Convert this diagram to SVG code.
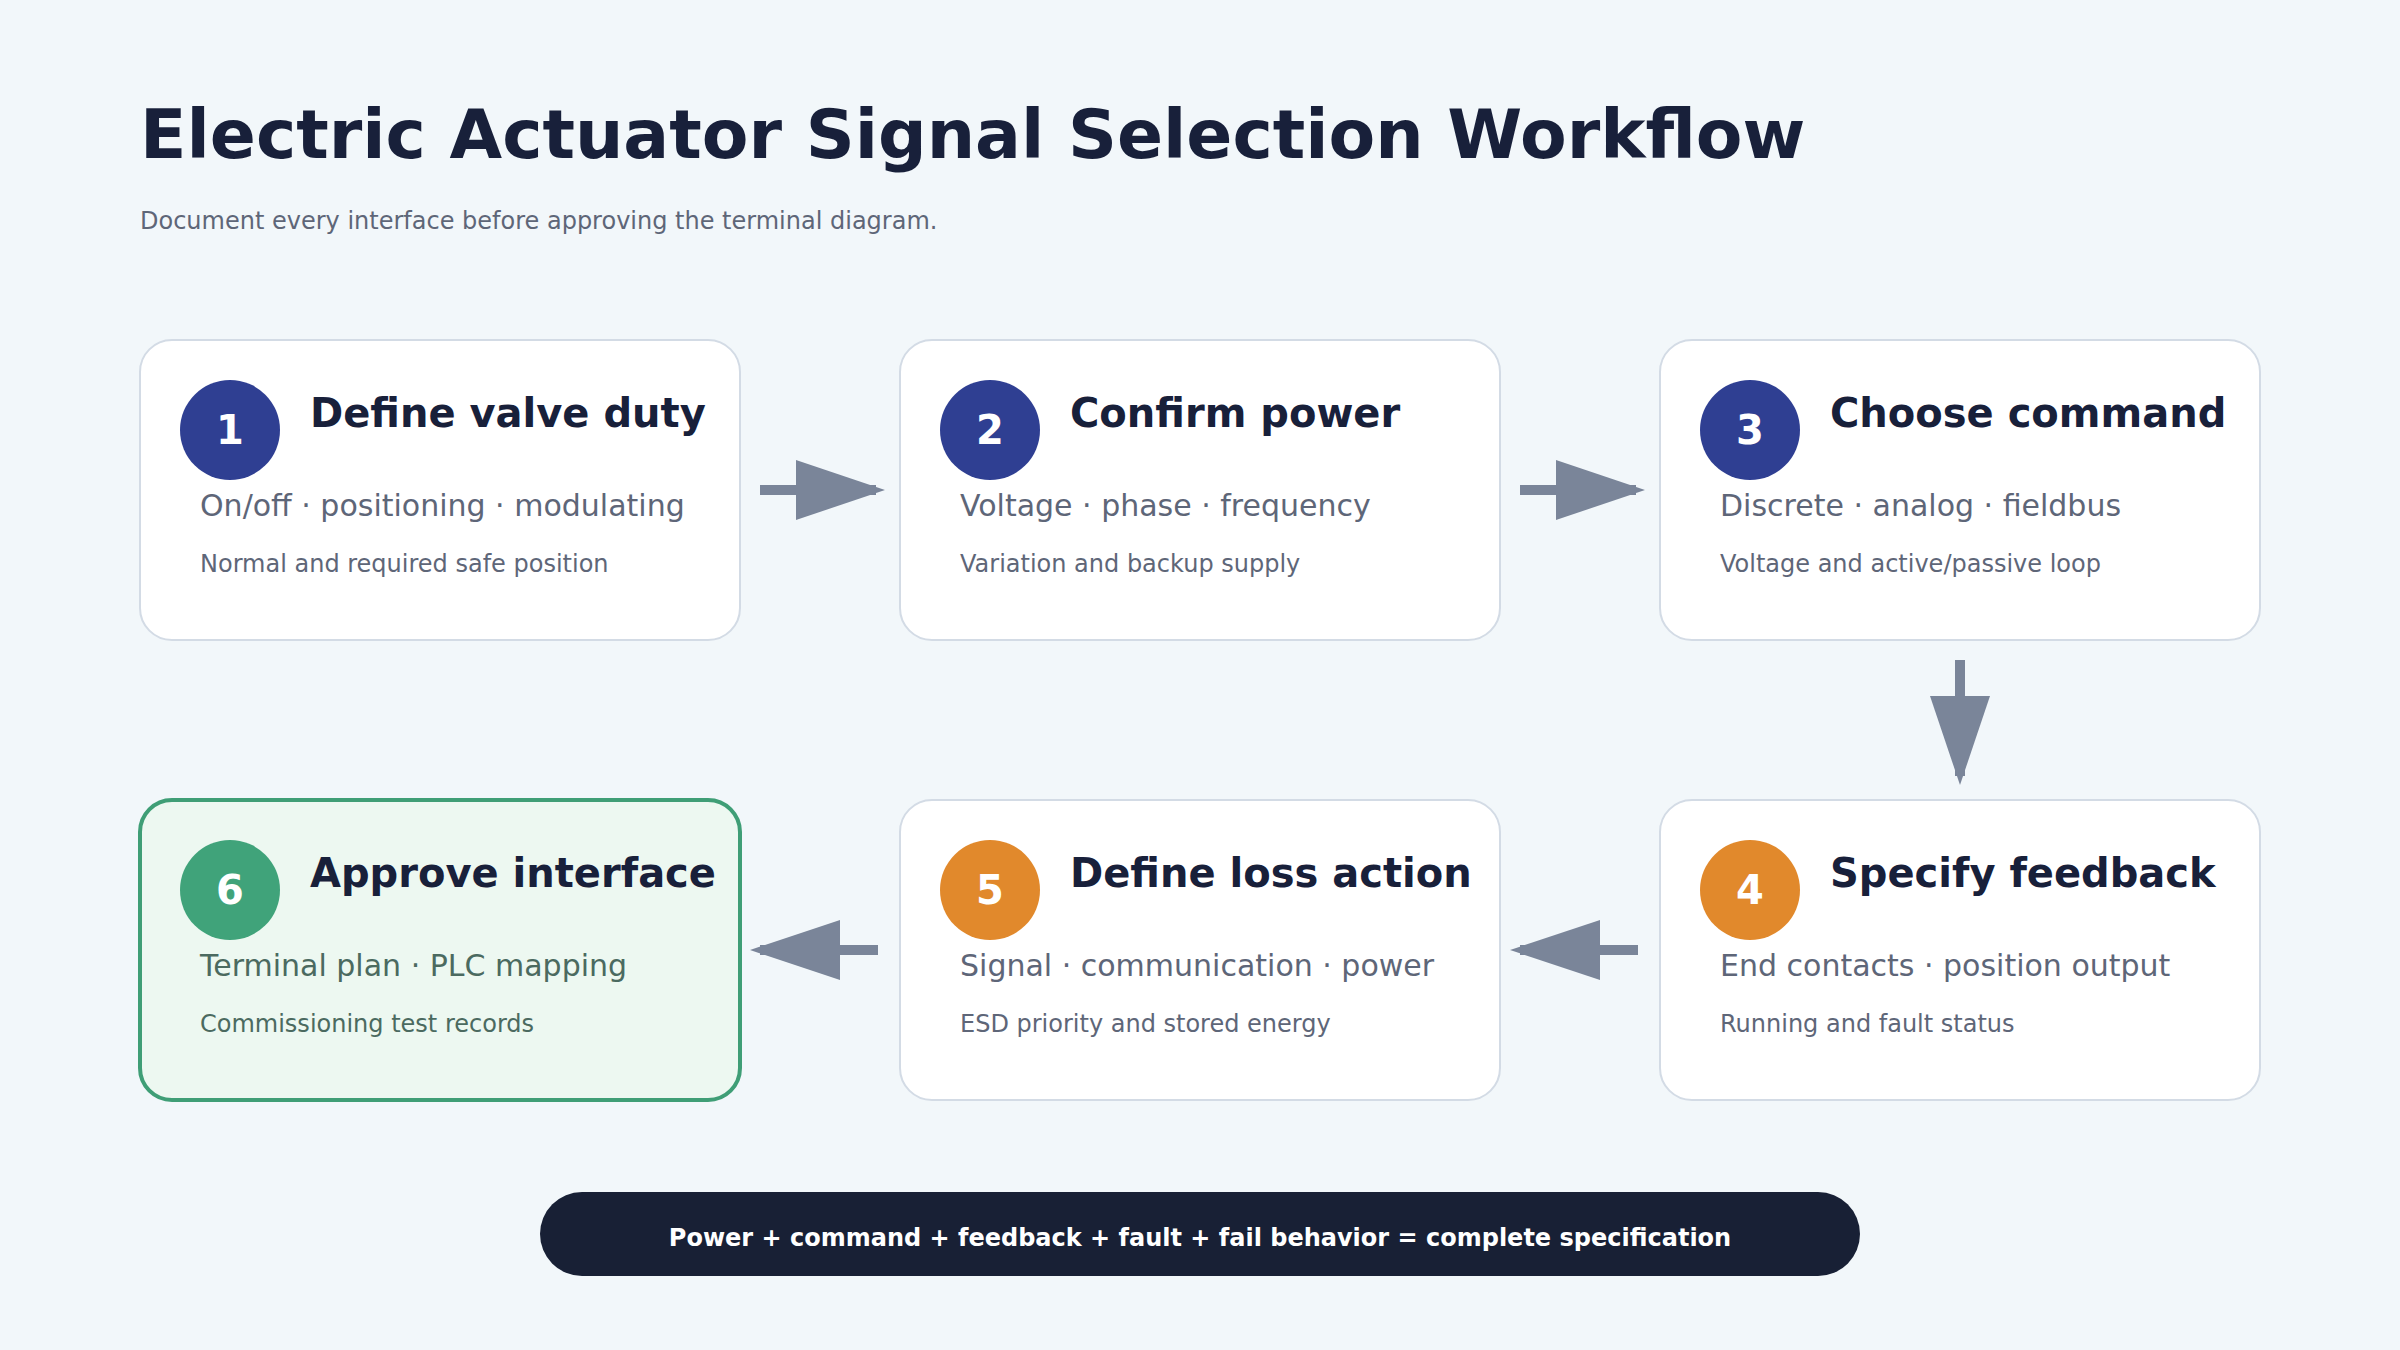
<svg xmlns="http://www.w3.org/2000/svg" width="2400" height="1350" viewBox="0 0 2400 1350">
<style>
  text { font-family: "DejaVu Sans", "Liberation Sans", sans-serif; }
  .card { fill: #ffffff; stroke: #d3dbe5; stroke-width: 2; }
  .card-ok { fill: #edf8f1; stroke: #3f9e76; stroke-width: 4; }
  .title { font-size: 40px; font-weight: bold; fill: #18203a; }
  .sub { font-size: 30px; fill: #5e6678; }
  .det { font-size: 24px; fill: #5e6678; }
  .sub-ok { font-size: 30px; fill: #4b6a60; }
  .det-ok { font-size: 24px; fill: #4b6a60; }
  .num { font-size: 40px; font-weight: bold; fill: #ffffff; text-anchor: middle; }
  .navy { fill: #2f3f92; }
  .orange { fill: #e1892c; }
  .green { fill: #40a37a; }
  .shaft { stroke: #7a8599; stroke-width: 10; fill: none; }
  .head { fill: #7a8599; }
</style>
<rect x="0" y="0" width="2400" height="1350" fill="#f2f7fa"/>
<text x="140" y="158" font-size="68" font-weight="bold" fill="#18203a">Electric Actuator Signal Selection Workflow</text>
<text x="140" y="229" font-size="24" fill="#5e6678">Document every interface before approving the terminal diagram.</text>

<g id="connectors">
  <line class="shaft" x1="760" y1="490" x2="876" y2="490"/>
  <polygon class="head" points="796,460 885,490 796,520"/>
  <line class="shaft" x1="1520" y1="490" x2="1636" y2="490"/>
  <polygon class="head" points="1556,460 1645,490 1556,520"/>
  <line class="shaft" x1="1960" y1="660" x2="1960" y2="776"/>
  <polygon class="head" points="1930,696 1960,785 1990,696"/>
  <line class="shaft" x1="1638" y1="950" x2="1520" y2="950"/>
  <polygon class="head" points="1600,920 1510,950 1600,980"/>
  <line class="shaft" x1="878" y1="950" x2="760" y2="950"/>
  <polygon class="head" points="840,920 750,950 840,980"/>
</g>

<g id="node-1">
  <rect class="card" x="140" y="340" width="600" height="300" rx="32"/>
  <circle class="navy" cx="230" cy="430" r="50"/>
  <text class="num" x="230" y="444">1</text>
  <text class="title" x="310" y="427">Define valve duty</text>
  <text class="sub" x="200" y="516">On/off · positioning · modulating</text>
  <text class="det" x="200" y="572">Normal and required safe position</text>
</g>
<g id="node-2">
  <rect class="card" x="900" y="340" width="600" height="300" rx="32"/>
  <circle class="navy" cx="990" cy="430" r="50"/>
  <text class="num" x="990" y="444">2</text>
  <text class="title" x="1070" y="427">Confirm power</text>
  <text class="sub" x="960" y="516">Voltage · phase · frequency</text>
  <text class="det" x="960" y="572">Variation and backup supply</text>
</g>
<g id="node-3">
  <rect class="card" x="1660" y="340" width="600" height="300" rx="32"/>
  <circle class="navy" cx="1750" cy="430" r="50"/>
  <text class="num" x="1750" y="444">3</text>
  <text class="title" x="1830" y="427">Choose command</text>
  <text class="sub" x="1720" y="516">Discrete · analog · fieldbus</text>
  <text class="det" x="1720" y="572">Voltage and active/passive loop</text>
</g>
<g id="node-4">
  <rect class="card" x="1660" y="800" width="600" height="300" rx="32"/>
  <circle class="orange" cx="1750" cy="890" r="50"/>
  <text class="num" x="1750" y="904">4</text>
  <text class="title" x="1830" y="887">Specify feedback</text>
  <text class="sub" x="1720" y="976">End contacts · position output</text>
  <text class="det" x="1720" y="1032">Running and fault status</text>
</g>
<g id="node-5">
  <rect class="card" x="900" y="800" width="600" height="300" rx="32"/>
  <circle class="orange" cx="990" cy="890" r="50"/>
  <text class="num" x="990" y="904">5</text>
  <text class="title" x="1070" y="887">Define loss action</text>
  <text class="sub" x="960" y="976">Signal · communication · power</text>
  <text class="det" x="960" y="1032">ESD priority and stored energy</text>
</g>
<g id="node-6">
  <rect class="card-ok" x="140" y="800" width="600" height="300" rx="32"/>
  <circle class="green" cx="230" cy="890" r="50"/>
  <text class="num" x="230" y="904">6</text>
  <text class="title" x="310" y="887">Approve interface</text>
  <text class="sub-ok" x="200" y="976">Terminal plan · PLC mapping</text>
  <text class="det-ok" x="200" y="1032">Commissioning test records</text>
</g>

<g id="summary">
  <rect x="540" y="1192" width="1320" height="84" rx="42" fill="#182035"/>
  <text x="1200" y="1246" font-size="24" font-weight="bold" fill="#ffffff" text-anchor="middle">Power + command + feedback + fault + fail behavior = complete specification</text>
</g>
</svg>
